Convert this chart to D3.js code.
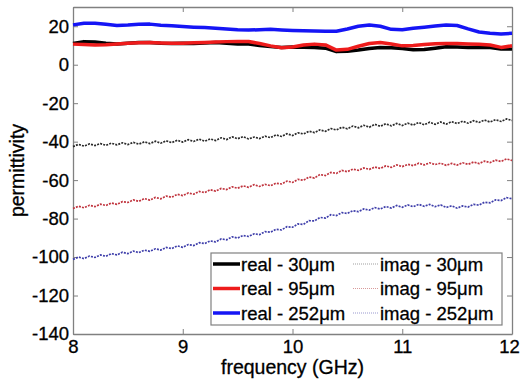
<!DOCTYPE html>
<html>
<head>
<meta charset="utf-8">
<script src="https://cdn.jsdelivr.net/npm/d3@7"></script>
<style>
  body { margin: 0; background: #fff; }
  svg { font-family: "Liberation Sans", Arial, sans-serif; }
  svg text { stroke: #000; stroke-width: 0.3px; }
</style>
</head>
<body>
<svg id="chart" width="521" height="384"></svg>
<script>
// frequency grid (GHz) for the real parts
const freq = [8.0, 8.1, 8.2, 8.3, 8.4, 8.5, 8.6, 8.7, 8.8, 8.9,
  9.0, 9.1, 9.2, 9.3, 9.4, 9.5, 9.6, 9.7, 9.8, 9.9,
  10.0, 10.1, 10.2, 10.3, 10.4, 10.5, 10.6, 10.7, 10.8, 10.9,
  11.0, 11.1, 11.2, 11.3, 11.4, 11.5, 11.6, 11.7, 11.8, 11.9, 12.0];

const real30 = [11.0, 12.0, 11.8, 11.2, 10.8, 11.2, 11.5, 11.6, 11.2, 11.0,
  11.2, 11.0, 11.3, 11.5, 11.2, 10.8, 10.7, 10.0, 9.4, 9.0,
  9.2, 9.1, 9.0, 8.6, 6.8, 7.0, 7.6, 8.4, 9.0, 8.8,
  8.4, 7.8, 7.9, 8.6, 9.3, 9.2, 9.0, 9.1, 8.9, 8.2, 8.1];

const real95 = [10.7, 10.5, 10.2, 10.4, 10.8, 11.2, 11.4, 11.6, 11.3, 11.1,
  11.2, 11.4, 11.6, 11.8, 12.0, 12.1, 12.1, 11.0, 9.8, 8.8,
  9.2, 10.2, 10.7, 10.3, 7.6, 8.0, 9.6, 11.0, 11.6, 10.8,
  9.8, 10.0, 10.5, 10.9, 11.0, 11.0, 10.8, 10.6, 10.2, 9.0, 9.8];

const real252 = [20.7, 21.5, 21.6, 21.0, 20.4, 20.6, 21.0, 21.1, 20.5, 20.2,
  19.8, 19.5, 19.3, 19.0, 18.6, 18.2, 18.0, 18.2, 18.4, 18.1,
  17.8, 17.6, 17.5, 17.4, 17.4, 18.6, 20.0, 20.7, 20.0, 18.4,
  18.2, 19.0, 19.5, 20.1, 20.6, 20.4, 18.6, 17.0, 16.4, 16.0, 16.3];

// finer frequency grid (GHz) for the imaginary parts
const freqFine = [8.00, 8.05, 8.10, 8.15, 8.20, 8.25, 8.30, 8.35, 8.40, 8.45,
  8.50, 8.55, 8.60, 8.65, 8.70, 8.75, 8.80, 8.85, 8.90, 8.95,
  9.00, 9.05, 9.10, 9.15, 9.20, 9.25, 9.30, 9.35, 9.40, 9.45,
  9.50, 9.55, 9.60, 9.65, 9.70, 9.75, 9.80, 9.85, 9.90, 9.95,
  10.00, 10.05, 10.10, 10.15, 10.20, 10.25, 10.30, 10.35, 10.40, 10.45,
  10.50, 10.55, 10.60, 10.65, 10.70, 10.75, 10.80, 10.85, 10.90, 10.95,
  11.00, 11.05, 11.10, 11.15, 11.20, 11.25, 11.30, 11.35, 11.40, 11.45,
  11.50, 11.55, 11.60, 11.65, 11.70, 11.75, 11.80, 11.85, 11.90, 11.95, 12.00];

const imag30 = [-42.6, -41.4, -42.3, -41.2, -42.0, -41.0, -41.9, -40.8, -41.7, -40.6,
  -41.5, -40.4, -41.3, -40.1, -41.0, -39.8, -40.8, -39.6, -40.5, -39.3,
  -40.2, -39.0, -39.9, -38.7, -39.8, -38.6, -39.4, -38.0, -38.9, -37.5,
  -38.5, -37.4, -38.6, -37.6, -38.4, -37.2, -37.9, -36.5, -37.3, -35.9,
  -36.8, -35.4, -36.0, -34.6, -35.3, -33.9, -34.6, -33.2, -33.9, -32.5,
  -33.3, -31.9, -32.8, -31.5, -32.5, -31.0, -32.0, -30.7, -31.8, -30.5,
  -31.6, -30.4, -31.4, -30.0, -31.2, -29.9, -31.0, -29.8, -30.9, -29.6,
  -30.6, -29.4, -30.4, -29.1, -30.0, -28.8, -29.8, -28.6, -29.5, -28.2, -29.0];

const imag95 = [-74.8, -73.6, -74.4, -73.1, -73.8, -72.5, -73.2, -71.9, -72.6, -71.2,
  -71.6, -70.3, -71.0, -69.6, -70.4, -69.0, -69.7, -68.3, -68.9, -67.4,
  -68.0, -66.7, -67.3, -65.9, -66.5, -65.0, -65.7, -64.3, -64.9, -63.5,
  -64.2, -63.0, -63.7, -62.4, -63.3, -62.2, -62.9, -61.6, -62.0, -60.5,
  -61.2, -59.6, -60.1, -58.4, -58.9, -57.1, -57.6, -56.0, -56.5, -55.0,
  -55.6, -54.3, -54.9, -53.7, -54.4, -53.2, -53.9, -52.6, -53.4, -52.1,
  -53.0, -51.8, -52.5, -51.2, -52.1, -51.0, -51.9, -51.2, -52.3, -51.3,
  -52.2, -51.0, -51.8, -50.6, -51.4, -50.1, -50.9, -49.6, -50.3, -49.0, -49.8];

const imag252 = [-101.2, -100.0, -100.8, -99.5, -100.2, -98.9, -99.6, -98.2, -98.9, -97.5,
  -98.2, -96.9, -97.7, -96.4, -97.0, -95.7, -96.4, -95.0, -95.6, -94.2,
  -94.9, -93.5, -94.0, -92.5, -93.0, -91.6, -92.1, -90.6, -91.0, -89.5,
  -90.1, -88.8, -89.3, -87.9, -88.3, -86.8, -87.1, -85.6, -85.9, -84.2,
  -84.5, -82.8, -83.0, -81.1, -81.2, -79.4, -79.7, -78.0, -78.4, -76.9,
  -77.3, -75.9, -76.4, -75.0, -75.6, -74.3, -75.0, -73.7, -74.5, -73.2,
  -74.1, -72.9, -73.8, -72.6, -73.6, -72.6, -73.8, -72.9, -74.2, -73.4,
  -74.6, -73.4, -74.0, -72.6, -73.0, -71.5, -71.8, -70.3, -70.6, -69.1, -69.7];

const xTicks = [8, 9, 10, 11, 12];
const yTicks = [-140, -120, -100, -80, -60, -40, -20, 0, 20];
const realLabels = ['real - 30\u03bcm', 'real - 95\u03bcm', 'real - 252\u03bcm'];
const imagLabels = ['imag - 30\u03bcm', 'imag - 95\u03bcm', 'imag - 252\u03bcm'];

const svg = d3.select('#chart');
const margin = { top: 7, right: 9, bottom: 50, left: 73 };
const width = 521 - margin.left - margin.right;
const height = 384 - margin.top - margin.bottom;
const g = svg.append('g').attr('transform', `translate(${margin.left},${margin.top})`);

const x = d3.scaleLinear().domain([8, 12]).range([0, width]);
const y = d3.scaleLinear().domain([-140, 30]).range([height, 0]);

const axisColor = '#808080';
const plain = d => String(d); // hyphen minus like the original

function styleAxis(sel) {
  sel.select('.domain').attr('stroke', axisColor).attr('stroke-width', 1.3);
  sel.selectAll('.tick line').attr('stroke', axisColor);
  sel.selectAll('.tick text').attr('fill', '#000').style('font-size', '18.5px');
  sel.attr('font-family', null);
}

// axes: ticks point inward, box all round
const xAxisG = g.append('g')
  .attr('transform', `translate(0,${height})`)
  .call(d3.axisBottom(x).tickValues(xTicks).tickSize(-5).tickSizeOuter(0).tickPadding(6).tickFormat(plain))
  .call(styleAxis);
// last label sits against the page edge
xAxisG.selectAll('.tick text').filter(d => d === 12).attr('dx', -3);

g.append('g')
  .call(d3.axisLeft(y).tickValues(yTicks).tickSize(-5).tickSizeOuter(0).tickPadding(4).tickFormat(plain))
  .call(styleAxis);

g.append('g')
  .call(d3.axisTop(x).tickValues(xTicks).tickSize(-5).tickSizeOuter(0).tickFormat(''))
  .call(styleAxis);

g.append('g')
  .attr('transform', `translate(${width},0)`)
  .call(d3.axisRight(y).tickValues(yTicks).tickSize(-5).tickSizeOuter(0).tickFormat(''))
  .call(styleAxis);

// imaginary parts (dotted)
const imagLine = d3.line().x((d, i) => x(freqFine[i])).y(d => y(d));
const imagSeries = [
  { values: imag30, color: '#2a2a2a' },
  { values: imag95, color: '#c0343e' },
  { values: imag252, color: '#3e3eaa' }
];
imagSeries.forEach(s => {
  g.append('path')
    .datum(s.values)
    .attr('fill', 'none')
    .attr('stroke', s.color)
    .attr('stroke-width', 1.7)
    .attr('stroke-dasharray', '2,1.2')
    .attr('d', imagLine);
});

// real parts (thick solid)
const realLine = d3.line().x((d, i) => x(freq[i])).y(d => y(d));
const realSeries = [
  { values: real30, color: '#000000' },
  { values: real95, color: '#ee1c1c' },
  { values: real252, color: '#1515f5' }
];
realSeries.forEach(s => {
  g.append('path')
    .datum(s.values)
    .attr('fill', 'none')
    .attr('stroke', s.color)
    .attr('stroke-width', 3.5)
    .attr('stroke-linejoin', 'round')
    .attr('d', realLine);
});

// legend
const legend = svg.append('g').attr('transform', 'translate(211,253)');
legend.append('rect')
  .attr('width', 291).attr('height', 72)
  .attr('fill', '#fff').attr('stroke', axisColor).attr('stroke-width', 1.2);

const imagSample = ['#a0a0a0', '#d89a9a', '#9a9ad0'];
realLabels.forEach((label, i) => {
  const ry = 11 + i * 24.5;
  legend.append('line')
    .attr('x1', 2).attr('x2', 29).attr('y1', ry).attr('y2', ry)
    .attr('stroke', realSeries[i].color).attr('stroke-width', 3.5);
  legend.append('text')
    .attr('x', 30).attr('y', ry + 6.5)
    .style('font-size', '18.5px').text(label);
  legend.append('line')
    .attr('x1', 142).attr('x2', 168).attr('y1', ry).attr('y2', ry)
    .attr('stroke', imagSample[i]).attr('stroke-width', 1.2)
    .attr('stroke-dasharray', '1,1');
  legend.append('text')
    .attr('x', 169).attr('y', ry + 6.5)
    .style('font-size', '18.5px').text(imagLabels[i]);
});

// axis titles
svg.append('text')
  .attr('x', margin.left + width / 2).attr('y', 374)
  .attr('text-anchor', 'middle')
  .style('font-size', '19.5px')
  .text('frequency (GHz)');

svg.append('text')
  .attr('transform', `translate(24,${margin.top + height / 2}) rotate(-90)`)
  .attr('text-anchor', 'middle')
  .style('font-size', '19.5px')
  .text('permittivity');
</script>
</body>
</html>
